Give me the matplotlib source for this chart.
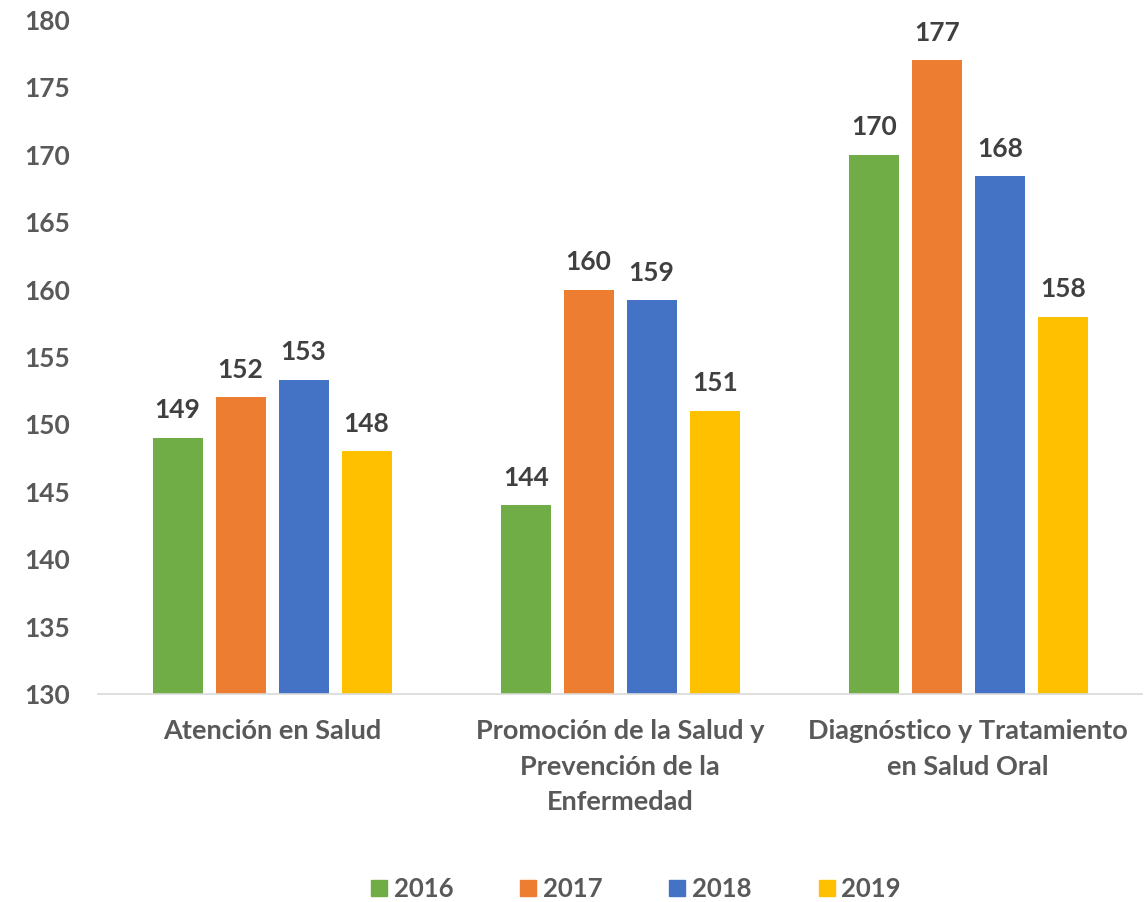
import numpy as np
import matplotlib.pyplot as plt
from matplotlib.patches import Patch

categories = ["Atención en Salud",
              "Promoción de la Salud y\nPrevención de la\nEnfermedad",
              "Diagnóstico y Tratamiento\nen Salud Oral"]
years = ["2016", "2017", "2018", "2019"]
v2016 = [149, 144, 170]
v2017 = [152, 160, 177]
v2018 = [153.3, 159.2, 168.4]
v2019 = [148, 151, 158]
colors = ["#70AD47", "#ED7D31", "#4472C4", "#FFC000"]
txt = "#595959"

plt.rcParams['font.family'] = ['Lato', 'DejaVu Sans']
plt.rcParams['font.weight'] = 'bold'

fig = plt.figure(figsize=(11.48, 9.02), dpi=100)
ax = fig.add_axes([0.0854, 0.2306, 0.9096, 0.7472])

x = np.arange(len(categories))
step = 0.181
width = 0.144
series = [v2016, v2017, v2018, v2019]
for i, vals in enumerate(series):
    pos = x + (i - 1.5) * step
    bars = ax.bar(pos, np.array(vals) - 130, width, bottom=130, color=colors[i])
    for b, v in zip(bars, vals):
        ax.annotate(f"{v:.0f}", (b.get_x() + b.get_width() / 2, v),
                    xytext=(0, 20), textcoords="offset points",
                    ha="center", va="center", fontsize=19,
                    fontweight="bold", color="#404040")

ax.set_xlim(-0.5, 2.5)
ax.set_ylim(130, 180)
ax.set_yticks(np.arange(130, 181, 5))
ax.set_xticks(x)
ax.set_xticklabels(categories, linespacing=1.58, fontsize=19.5)
ax.tick_params(axis='both', length=0, labelsize=19, labelcolor=txt)
ax.tick_params(axis='x', labelsize=19.5)
ax.tick_params(axis='y', pad=20)
ax.tick_params(axis='x', pad=18)
for s in ["top", "right", "left"]:
    ax.spines[s].set_visible(False)
ax.spines["bottom"].set_color("#D9D9D9")
ax.spines["bottom"].set_linewidth(1.2)

handles = [Patch(color=c, label=y) for c, y in zip(colors, years)]
leg = fig.legend(handles=handles, loc="center", bbox_to_anchor=(0.554, 0.0144),
                 ncol=4, frameon=False, fontsize=18.5, handlelength=0.62,
                 handleheight=0.62, handletextpad=0.27, columnspacing=2.6)
for t in leg.get_texts():
    t.set_color(txt)

fig.savefig("out.png", dpi=100)
